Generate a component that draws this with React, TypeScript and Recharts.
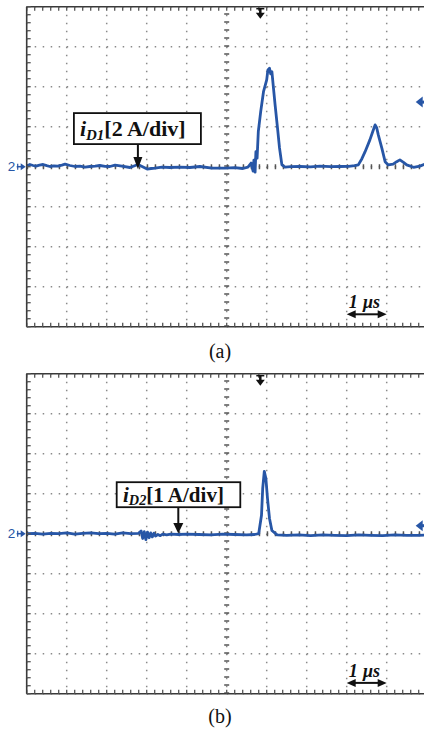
import React from 'react';
import { LineChart, Line, XAxis, YAxis, CartesianGrid, ReferenceLine, ReferenceDot } from 'recharts';

// trace (a): diode current iD1, time in µs, current in A (2 A/div)
const timeA = [0, 0.08, 0.16, 0.23, 0.32, 0.41, 0.5, 0.58, 0.68, 0.78, 0.88, 0.96, 1.08, 1.21, 1.33, 1.46, 1.58, 1.71, 1.83, 1.96,
  2.08, 2.21, 2.38, 2.58, 2.7, 2.78, 2.91, 3.01, 3.11, 3.21, 3.38, 3.58, 3.83, 4.08, 4.33, 4.63, 4.96, 5.2, 5.4, 5.53,
  5.61, 5.66, 5.68, 5.71, 5.73, 5.76, 5.79, 5.85, 5.92, 6.0, 6.03, 6.07, 6.1, 6.13, 6.17, 6.21, 6.27, 6.32, 6.38, 6.46,
  6.6, 6.83, 7.1, 7.33, 7.6, 7.83, 8.05, 8.2, 8.29, 8.38, 8.46, 8.58, 8.65, 8.71, 8.75, 8.79, 8.88, 8.96, 9.04, 9.16,
  9.25, 9.33, 9.42, 9.5, 9.67, 9.83, 10];
const currentA = [0.03, 0.11, 0.06, 0.03, 0.08, 0.11, 0.05, 0.01, 0.04, 0.03, 0.08, 0.13, 0.06, 0.01, 0.03, -0.02, 0.01, 0.03, 0.06, 0.02,
  0.01, 0.08, 0.03, -0.04, 0.05, 0.11, -0.02, -0.12, -0.09, -0.07, -0.02, -0.04, -0.02, -0.04, 0.01, -0.07, -0.07, -0.05, -0.09, -0.02,
  0.18, -0.22, 0.33, -0.27, 0.75, 0.43, 1.75, 2.75, 3.75, 4.34, 4.84, 4.92, 4.64, 4.75, 3.92, 3.09, 1.94, 0.94, 0.09, -0.02,
  0.0, 0.01, -0.01, 0.03, 0.0, 0.01, 0.02, 0.05, 0.09, 0.4, 0.75, 1.34, 1.75, 2.09, 1.95, 1.59, 0.92, 0.25, 0.09, 0.13,
  0.25, 0.34, 0.22, 0.09, -0.03, 0.03, 0.16];

// trace (b): diode current iD2 (1 A/div)
const timeB = [0, 0.2, 0.4, 0.6, 0.8, 1.0, 1.2, 1.4, 1.6, 1.8, 2.0, 2.2, 2.4, 2.6, 2.8, 2.86, 2.9, 2.94, 2.98, 3.02,
  3.06, 3.1, 3.14, 3.18, 3.22, 3.28, 3.34, 3.4, 3.5, 3.6, 3.8, 4.0, 4.3, 4.6, 4.9, 5.2, 5.5, 5.7, 5.8, 5.87,
  5.9, 5.94, 5.98, 6.02, 6.07, 6.13, 6.26, 6.5, 6.8, 7.1, 7.4, 7.7, 8.0, 8.3, 8.6, 8.9, 9.2, 9.5, 9.8, 10];
const currentB = [0.0, 0.01, -0.01, 0.01, 0.0, 0.02, -0.01, 0.01, 0.02, 0.0, 0.01, -0.01, 0.02, 0.0, 0.01, 0.07, -0.12, 0.05, -0.15, 0.04,
  -0.1, 0.02, -0.08, 0.01, -0.06, -0.02, -0.05, -0.01, -0.03, -0.01, -0.02, -0.01, -0.02, -0.03, -0.01, -0.02, -0.03, -0.02, 0.0, 0.46,
  1.13, 1.56, 1.38, 0.88, 0.38, 0.08, -0.03, -0.04, -0.03, -0.05, -0.03, -0.04, -0.05, -0.03, -0.04, -0.05, -0.03, -0.04, -0.04, -0.03];

const divTicksTime = [0, 1, 2, 3, 4, 5, 6, 7, 8, 9, 10];
const divTicksA = [-8, -6, -4, -2, 0, 2, 4, 6, 8];
const divTicksB = [-4, -3, -2, -1, 0, 1, 2, 3, 4];

// 5 minor marks per division along the screen border
const split = (from: number, to: number, n: number) =>
  Array.from({ length: n + 1 }, (_, k) => +(from + ((to - from) * k) / n).toFixed(3));
const minorTime = split(0, 10, 50);
const minorA = split(-8, 8, 40);
const minorB = split(-4, 4, 40);

const TRACE = '#2756a6';
const INK = '#111';
const SERIF = "'Liberation Serif', 'Times New Roman', serif";

const noLabel = () => <g />;

const probeShape = (cfg: any) => (props: any) => {
  const { cx, cy } = props;
  return (
    <g>
      <line x1={cx} x2={cx} y1={cy + cfg.boxTop + cfg.boxH} y2={cy - cfg.head + 1} stroke={INK} strokeWidth={2} />
      <path d={`M${cx - cfg.half},${cy - cfg.head} L${cx + cfg.half},${cy - cfg.head} L${cx},${cy + 1} Z`} fill={INK} />
      <rect x={cx + cfg.boxLeft} y={cy + cfg.boxTop} width={cfg.boxW} height={cfg.boxH} fill="#fff" stroke={INK} strokeWidth={1.8} />
      <text x={cx + cfg.textDx} y={cy + cfg.textDy} fontFamily={SERIF} fontWeight="bold" fontSize={cfg.fontSize} fill={INK}>
        <tspan fontStyle="italic">i</tspan>
        <tspan fontStyle="italic" fontSize={cfg.fontSize * 0.68} dy={cfg.subDy}>{cfg.sub}</tspan>
        <tspan dy={-cfg.subDy}>[{cfg.scale}]</tspan>
      </text>
    </g>
  );
};

const triggerShape = (props: any) => {
  const { cx, cy } = props;
  return (
    <g fill={INK} stroke={INK}>
      <line x1={cx - 4} x2={cx + 4} y1={cy + 2} y2={cy + 2} strokeWidth={1.5} />
      <line x1={cx} x2={cx} y1={cy + 2} y2={cy + 7} strokeWidth={2.5} />
      <path d={`M${cx - 4.5},${cy + 6} L${cx + 4.5},${cy + 6} L${cx},${cy + 12} Z`} stroke="none" />
    </g>
  );
};

const levelShape = (props: any) => {
  const { cx, cy } = props;
  return (
    <g fill={TRACE}>
      <path d={`M${cx - 11},${cy} L${cx - 4},${cy - 5.5} L${cx - 4},${cy + 5.5} Z`} />
      <rect x={cx - 5} y={cy - 1.5} width={4} height={3} />
    </g>
  );
};

const channelShape = (props: any) => {
  const { cx, cy } = props;
  return (
    <g fill={TRACE}>
      <text x={cx - 19} y={cy + 4.5} fontSize={13.5} fontFamily="'Liberation Sans', Arial, sans-serif">2</text>
      <line x1={cx - 10} x2={cx - 4} y1={cy} y2={cy} stroke={TRACE} strokeWidth={1.5} />
      <line x1={cx - 9} x2={cx - 9} y1={cy - 3} y2={cy + 3} stroke={TRACE} strokeWidth={1.2} />
      <path d={`M${cx - 1},${cy} L${cx - 6},${cy - 3.5} L${cx - 6},${cy + 3.5} Z`} />
    </g>
  );
};

const scaleBarShape = (props: any) => {
  const { cx, cy } = props;
  return (
    <g fill={INK}>
      <line x1={cx - 14} x2={cx + 14} y1={cy} y2={cy} stroke={INK} strokeWidth={2} />
      <path d={`M${cx - 20},${cy} L${cx - 11},${cy - 4} L${cx - 11},${cy + 4} Z`} />
      <path d={`M${cx + 20},${cy} L${cx + 11},${cy - 4} L${cx + 11},${cy + 4} Z`} />
      <text x={cx - 18} y={cy - 6} fontFamily={SERIF} fontWeight="bold" fontStyle="italic" fontSize={18}>1</text>
      <text x={cx - 4} y={cy - 6} fontFamily={SERIF} fontWeight="bold" fontStyle="italic" fontSize={18}>µs</text>
    </g>
  );
};

interface PanelProps {
  times: number[];
  currents: number[];
  yMax: number;
  divTicks: number[];
  minorTicks: number[];
  probe: { t: number; i: number; cfg: any };
  trigger: number;
  level: number;
  barLevel: number;
}

const ScopePanel: React.FC<PanelProps> = ({ times, currents, yMax, divTicks, minorTicks, probe, trigger, level, barLevel }) => {
  const data = times.map((t, k) => ({ t, i: currents[k] }));
  const frame = { stroke: '#3a3a3a', strokeWidth: 1.6 };
  const tickLn = { stroke: '#555', strokeWidth: 1.3 };
  return (
    <LineChart width={430} height={340} data={data} margin={{ top: 6.7, right: 3.3, bottom: 13.3, left: 26.7 }}>
      <XAxis xAxisId="main" dataKey="t" type="number" domain={[0, 10]} ticks={divTicksTime} allowDataOverflow hide />
      <YAxis yAxisId="main" dataKey="i" type="number" domain={[-yMax, yMax]} ticks={divTicks} allowDataOverflow hide />
      <XAxis xAxisId="top" orientation="top" dataKey="t" type="number" domain={[0, 10]} ticks={minorTime} interval={0}
        allowDataOverflow mirror tick={noLabel} tickSize={4} axisLine={frame} tickLine={tickLn} />
      <XAxis xAxisId="bottom" orientation="bottom" dataKey="t" type="number" domain={[0, 10]} ticks={minorTime} interval={0}
        allowDataOverflow mirror tick={noLabel} tickSize={4} axisLine={frame} tickLine={tickLn} />
      <YAxis yAxisId="left" orientation="left" dataKey="i" type="number" domain={[-yMax, yMax]} ticks={minorTicks} interval={0}
        allowDataOverflow mirror tick={noLabel} tickSize={4} axisLine={frame} tickLine={tickLn} />
      <CartesianGrid xAxisId="main" yAxisId="main" stroke="#8a8a8a" strokeWidth={1.5} strokeDasharray="1.5 6.5" />
      <ReferenceLine xAxisId="main" yAxisId="main" x={5} stroke="#555" strokeWidth={5} strokeDasharray="1.5 6.5" />
      <ReferenceLine xAxisId="main" yAxisId="main" y={0} stroke="#555" strokeWidth={5} strokeDasharray="1.5 6.5" />
      <Line xAxisId="main" yAxisId="main" type="linear" dataKey="i" stroke={TRACE} strokeWidth={2.8}
        strokeLinejoin="round" dot={false} isAnimationActive={false} />
      <ReferenceDot xAxisId="main" yAxisId="main" x={trigger} y={yMax} shape={triggerShape} />
      <ReferenceDot xAxisId="main" yAxisId="main" x={10} y={level} shape={levelShape} />
      <ReferenceDot xAxisId="main" yAxisId="main" x={0} y={0} shape={channelShape} />
      <ReferenceDot xAxisId="main" yAxisId="main" x={8.5} y={barLevel} shape={scaleBarShape} />
      <ReferenceDot xAxisId="main" yAxisId="main" x={probe.t} y={probe.i} shape={probeShape(probe.cfg)} />
    </LineChart>
  );
};

const caption: React.CSSProperties = {
  position: 'absolute', left: 190, width: 60, textAlign: 'center',
  fontFamily: SERIF, fontSize: 20, lineHeight: '24px', color: '#111',
};

export default function App() {
  return (
    <div style={{ position: 'absolute', left: 0, top: 0, width: 424, height: 729, overflow: 'hidden', background: '#fff' }}>
      <div style={{ position: 'absolute', left: 0, top: 0 }}>
        <ScopePanel
          times={timeA} currents={currentA} yMax={8} divTicks={divTicksA} minorTicks={minorA}
          probe={{ t: 2.78, i: -0.07, cfg: { boxLeft: -64, boxTop: -55, boxW: 127, boxH: 31, textDx: -58, textDy: -32, fontSize: 22, subDy: 4, sub: 'D1', scale: '2 A/div', head: 11, half: 4.5 } }}
          trigger={5.84} level={3.23} barLevel={-7.38}
        />
      </div>
      <div style={{ ...caption, top: 339 }}>(a)</div>
      <div style={{ position: 'absolute', left: 0, top: 366.6 }}>
        <ScopePanel
          times={timeB} currents={currentB} yMax={4} divTicks={divTicksB} minorTicks={minorB}
          probe={{ t: 3.79, i: 0.03, cfg: { boxLeft: -61.6, boxTop: -50.3, boxW: 123.6, boxH: 25, textDx: -55.3, textDy: -31, fontSize: 21, subDy: 3, sub: 'D2', scale: '1 A/div', head: 9.5, half: 5 } }}
          trigger={5.84} level={0.2} barLevel={-3.73}
        />
      </div>
      <div style={{ ...caption, top: 704 }}>(b)</div>
    </div>
  );
}
